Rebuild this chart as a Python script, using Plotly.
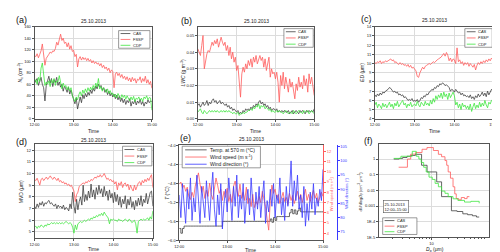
import plotly.graph_objects as go
import pandas as pd

T0 = "2013-10-25 12:00"
T1 = "2013-10-25 15:00"
DATE_TITLE = "25.10.2013"
TIME_TICKS = ["12:00", "13:00", "14:00", "15:00"]
PANEL_LABELS = ["(a)", "(b)", "(c)", "(d)", "(e)", "(f)"]
PROBES = ["CAS", "FSSP", "CDP"]

# ---------------- (a) droplet number concentration Nc (cm-3), 2-min values 12:00..15:00
nc_cas = [62, 65, 70, 58, 66, 72, 60, 54, 31, 58,
          66, 74, 62, 70, 56, 68, 63, 72, 58, 64,
          55, 60, 48, 57, 52, 46, 55, 43, 50, 38,
          33, 26, 36, 17, 30, 38, 28, 42, 35, 44,
          38, 46, 41, 50, 44, 53, 48, 57, 52, 60,
          55, 58, 50, 54, 46, 51, 42, 48, 40, 45,
          38, 43, 35, 41, 33, 39, 30, 36, 28, 34,
          25, 32, 28, 35, 22, 30, 26, 33, 24, 31,
          27, 34, 25, 30, 22, 29, 26, 33, 28, 31,
          30]
nc_fssp = [110, 108, 113, 106, 112, 118, 130, 112, 93, 105,
           110, 112, 116, 114, 118, 117, 122, 133, 128, 140,
           147, 136, 140, 131, 133, 125, 132, 121, 127, 117,
           119, 108, 112, 90, 104, 108, 102, 107, 103, 106,
           101, 105, 100, 103, 97, 101, 96, 99, 95, 97,
           92, 96, 89, 93, 87, 90, 84, 88, 80, 85,
           82, 54, 78, 81, 75, 79, 72, 77, 70, 74,
           68, 73, 66, 71, 64, 72, 66, 70, 62, 69,
           67, 73, 63, 70, 65, 74, 62, 68, 60, 65,
           53]
nc_cdp = [63, 68, 60, 72, 65, 88, 97, 70, 58, 64,
          60, 66, 56, 68, 62, 70, 58, 66, 64, 75,
          60, 52, 62, 55, 58, 50, 56, 48, 54, 40,
          35, 30, 38, 33, 42, 47, 40, 50, 44, 52,
          46, 54, 48, 55, 50, 58, 52, 62, 55, 70,
          52, 56, 48, 54, 50, 46, 52, 44, 49, 42,
          45, 38, 43, 36, 44, 40, 35, 42, 37, 41,
          34, 40, 36, 31, 38, 33, 39, 30, 36, 34,
          38, 32, 36, 30, 38, 35, 40, 33, 37, 36,
          15]

# ---------------- (b) LWC (g m-3)
lwc_cas = [.008, .009, .007, .009, .010, .008, .009, .011, .008, .010,
           .009, .011, .012, .010, .011, .009, .010, .011, .009, .010,
           .009, .008, .009, .007, .008, .006, .007, .005, .006, .005,
           .004, .005, .003, .004, .003, .005, .004, .006, .005, .006,
           .005, .007, .006, .008, .007, .009, .008, .010, .011, .009,
           .010, .008, .009, .007, .008, .006, .007, .005, .006, .006,
           .005, .006, .004, .005, .004, .005, .004, .005, .004, .004,
           .005, .003, .004, .005, .003, .004, .005, .004, .003, .005,
           .004, .005, .004, .003, .005, .004, .005, .004, .005, .004,
           .006]
lwc_fssp = [.042, .040, .038, .044, .050, .030, .036, .039, .041, .040,
            .043, .046, .044, .047, .045, .048, .043, .047, .049, .046,
            .044, .046, .041, .044, .038, .043, .036, .040, .034, .037,
            .029, .032, .020, .013, .027, .031, .028, .033, .030, .035,
            .032, .036, .031, .037, .034, .038, .033, .036, .038, .035,
            .037, .031, .036, .029, .034, .037, .025, .030, .027, .028,
            .024, .028, .022, .010, .026, .020, .028, .018, .025, .021,
            .016, .024, .019, .022, .015, .012, .021, .017, .025, .019,
            .022, .018, .026, .020, .024, .016, .027, .021, .025, .020,
            .014]
lwc_cdp = [.004, .005, .006, .004, .003, .005, .004, .003, .004, .005,
           .004, .005, .004, .005, .004, .005, .004, .004, .005, .004,
           .005, .004, .005, .004, .005, .004, .004, .003, .004, .003,
           .003, .004, .002, .003, .003, .004, .003, .004, .004, .005,
           .005, .006, .005, .007, .006, .008, .007, .009, .006, .008,
           .007, .008, .006, .007, .006, .005, .006, .004, .005, .004,
           .004, .005, .004, .005, .004, .004, .003, .004, .005, .004,
           .003, .004, .004, .003, .005, .004, .003, .004, .005, .004,
           .004, .003, .005, .004, .004, .005, .003, .004, .005, .004,
           .003]

# ---------------- (c) ED (um)
ed_cas = [6.6, 6.4, 6.7, 6.5, 6.8, 6.6, 6.9, 6.8, 7.0, 7.1,
          7.2, 7.4, 7.3, 7.1, 6.9, 7.0, 6.8, 6.9, 6.6, 6.7,
          6.5, 6.6, 6.3, 6.4, 6.2, 6.0, 6.1, 6.0, 6.2, 5.9,
          6.0, 5.9, 6.1, 5.8, 6.0, 6.3, 6.2, 6.5, 6.4, 6.7,
          6.6, 6.9, 7.0, 7.2, 7.1, 7.4, 7.3, 7.6, 7.5, 7.8,
          7.7, 7.9, 7.8, 7.6, 7.7, 7.5, 7.4, 7.0, 7.2, 7.1,
          6.9, 7.2, 7.0, 6.8, 6.9, 6.6, 6.8, 6.5, 6.6, 6.4,
          6.5, 6.3, 6.6, 6.2, 6.4, 6.1, 6.5, 6.3, 6.7, 6.4,
          6.6, 6.9, 6.5, 6.8, 6.4, 7.0, 6.6, 6.9, 7.2, 7.0,
          8.0]
ed_fssp = [10.1, 10.0, 10.2, 10.1, 10.3, 10.0, 10.2, 10.1, 10.3, 10.2,
           10.3, 10.4, 10.5, 10.3, 10.4, 10.1, 10.2, 10.0, 9.9, 10.1,
           9.9, 10.0, 9.8, 9.9, 9.7, 9.9, 9.6, 9.8, 9.5, 9.6,
           9.4, 9.2, 8.6, 8.5, 9.0, 9.3, 9.6, 9.4, 9.7, 9.8,
           9.9, 10.0, 9.9, 10.1, 10.2, 10.1, 10.3, 10.4, 10.5, 10.6,
           10.7, 10.9, 11.1, 10.8, 11.2, 10.9, 10.3, 10.6, 10.2, 10.5,
           10.4, 10.0, 11.7, 10.2, 10.4, 10.0, 10.2, 9.8, 10.1, 9.9,
           10.1, 9.7, 10.0, 9.8, 9.6, 9.9, 9.3, 9.8, 10.1, 9.9,
           10.2, 10.0, 10.3, 10.1, 10.4, 10.2, 10.5, 10.3, 10.6, 10.4,
           10.0]
ed_cdp = [5.5, 5.8, 5.2, 5.6, 5.4, 5.1, 5.7, 5.3, 5.6, 5.2,
          5.5, 5.8, 5.3, 5.6, 5.1, 5.7, 5.4, 5.9, 5.3, 5.6,
          5.8, 6.0, 5.5, 5.7, 5.2, 5.6, 5.4, 5.8, 5.3, 5.5,
          5.6, 5.4, 5.9, 5.5, 5.3, 5.8, 5.6, 5.4, 5.9, 5.5,
          5.7, 5.4, 6.0, 5.6, 6.2, 5.8, 6.5, 6.1, 6.6, 6.3,
          6.8, 6.2, 6.9, 6.4, 6.7, 6.1, 6.8, 6.3, 6.6, 6.9,
          6.5, 5.5, 5.8, 5.2, 5.6, 5.0, 5.7, 5.3, 5.5, 5.1,
          5.4, 5.0, 5.6, 4.8, 5.3, 5.7, 5.1, 5.5, 5.2, 5.8,
          5.3, 5.7, 5.4, 6.0, 5.5, 5.2, 5.8, 5.6, 6.0, 5.9,
          6.7]

# ---------------- (d) MVD (um)
mvd_cas = [7.2, 7.0, 7.4, 7.1, 7.5, 7.3, 7.6, 7.2, 7.5, 7.4,
           7.6, 7.7, 7.4, 7.5, 7.3, 7.2, 7.4, 7.0, 7.3, 7.1,
           7.2, 7.0, 7.3, 6.9, 7.1, 7.0, 6.8, 7.4, 7.0, 8.4,
           7.2, 6.6, 7.8, 6.9, 7.6, 8.0, 7.3, 9.0, 7.6, 8.2,
           7.7, 8.5, 7.9, 9.1, 8.0, 8.6, 7.8, 8.8, 8.2, 9.0,
           8.3, 8.7, 8.0, 8.9, 8.1, 8.5, 7.7, 8.6, 7.9, 8.3,
           7.5, 8.4, 7.6, 8.2, 7.3, 8.0, 7.1, 7.8, 7.4, 8.1,
           7.0, 7.8, 7.3, 8.0, 7.1, 7.6, 6.9, 7.7, 7.2, 7.9,
           7.3, 8.1, 7.2, 7.8, 7.5, 8.3, 7.4, 8.0, 8.4, 8.5,
           7.2]
mvd_fssp = [9.5, 9.4, 9.6, 9.3, 9.0, 9.5, 9.6, 9.4, 9.6, 9.7,
            9.5, 9.7, 9.8, 9.6, 9.5, 9.7, 9.5, 9.4, 9.6, 9.3,
            9.4, 9.2, 9.3, 9.1, 9.2, 9.0, 9.1, 8.9, 9.0, 8.7,
            8.5, 7.6, 8.2, 8.4, 8.9, 9.0, 9.1, 9.2, 9.1, 9.3,
            9.2, 9.4, 9.3, 9.5, 9.4, 9.6, 9.7, 9.6, 9.8, 9.7,
            9.9, 9.7, 9.8, 10.0, 9.7, 9.5, 9.6, 9.4, 9.5, 9.3,
            9.4, 9.1, 9.3, 8.6, 9.2, 9.0, 9.3, 8.8, 9.1, 9.2,
            8.9, 9.1, 8.6, 9.0, 8.7, 8.5, 9.0, 8.6, 8.9, 9.2,
            9.3, 9.0, 9.4, 9.2, 9.5, 9.3, 9.6, 9.4, 9.7, 9.9,
            8.8]
mvd_cdp = [5.4, 5.5, 5.3, 5.5, 5.4, 5.6, 5.5, 5.4, 5.6, 5.5,
           5.7, 5.6, 5.7, 5.8, 5.7, 5.8, 5.7, 5.8, 5.7, 5.8,
           5.7, 5.8, 5.7, 5.8, 5.9, 5.8, 5.7, 5.8, 5.7, 5.4,
           4.9, 5.6, 5.2, 5.7, 5.8, 5.9, 5.8, 5.9, 6.0, 5.9,
           6.0, 6.1, 6.0, 6.2, 6.1, 6.3, 6.2, 6.4, 6.3, 6.5,
           6.4, 6.6, 6.4, 6.7, 6.5, 6.3, 6.2, 5.7, 6.1, 6.0,
           6.1, 6.0, 6.0, 5.9, 6.1, 6.0, 6.0, 5.9, 6.0, 6.1,
           6.0, 5.9, 6.1, 6.0, 5.8, 5.9, 6.0, 5.7, 4.9, 5.9,
           6.0, 6.1, 6.0, 6.1, 6.0, 6.1, 6.2, 6.0, 6.3, 6.1,
           6.8]

# ---------------- (e) meteorology
temp_570 = [-5.75, -5.85, -5.75, -5.70, -5.70, -5.70, -5.70, -5.70, -5.70, -5.70,
            -5.70, -5.70, -5.70, -5.70, -5.70, -5.70, -5.70, -5.70, -5.70, -5.70,
            -5.70, -5.70, -5.70, -5.70, -5.70, -5.70, -5.70, -5.60, -5.60, -5.60,
            -5.60, -5.60, -5.60, -5.60, -5.60, -5.60, -5.60, -5.60, -5.60, -5.60,
            -5.60, -5.60, -5.60, -5.60, -5.60, -5.60, -5.60, -5.60, -5.60, -5.60,
            -5.60, -5.60, -5.60, -5.60, -5.60, -5.60, -5.60, -5.55, -5.62, -5.52,
            -5.58, -5.50, -5.50, -5.50, -5.50, -5.50, -5.50, -5.50, -5.50, -5.42,
            -5.35, -5.44, -5.36, -5.45, -5.38, -5.32, -5.40, -5.40, -5.40, -5.40,
            -5.40, -5.40, -5.40, -5.40, -5.40, -5.40, -5.40, -5.40, -5.40, -5.40,
            -5.40]
wind_speed = [8.8, 9.0, 8.4, 8.7, 8.1, 8.5, 7.6, 7.3, 8.0, 7.5,
              8.6, 9.3, 9.9, 8.8, 8.0, 8.6, 7.4, 8.2, 7.6, 8.9,
              7.8, 7.3, 8.4, 9.4, 8.7, 7.9, 8.3, 7.2, 8.1, 7.5,
              8.4, 7.1, 7.8, 7.0, 8.6, 9.1, 8.2, 7.6, 8.8, 7.4,
              8.0, 7.2, 8.5, 6.9, 7.4, 6.6, 7.8, 6.5, 7.1, 6.8,
              7.6, 7.0, 8.1, 7.4, 6.6, 5.4, 4.3, 7.2, 8.7, 7.9,
              8.3, 7.4, 7.8, 6.9, 7.6, 8.0, 7.1, 7.5, 6.8, 7.9,
              7.2, 7.7, 6.9, 7.4, 8.1, 7.3, 7.8, 7.0, 7.6, 8.3,
              7.2, 7.8, 7.1, 7.7, 8.2, 7.4, 7.9, 7.0, 7.5, 8.0,
              7.6]
wind_dir = [88, 80, 92, 84, 78, 90, 83, 94, 79, 87,
            82, 95, 85, 78, 91, 84, 80, 93, 86, 79,
            89, 96, 83, 77, 88, 81, 92, 76, 85, 90,
            82, 94, 87, 79, 91, 84, 95, 80, 88, 83,
            92, 78, 86, 90, 81, 94, 85, 79, 89, 83,
            91, 80, 87, 93, 78, 86, 82, 90, 84, 92,
            80, 88, 85, 94, 81, 87, 79, 91, 84, 89,
            100, 84, 93, 86, 95, 83, 88, 80, 91, 77,
            85, 79, 89, 83, 92, 81, 87, 84, 90, 86,
            97]
E_LEGEND = ["Temp. at 570 m (°C)", "Wind speed (m s<sup>-1</sup>)", "Wind direction (°)"]

# ---------------- (f) size distributions dN/dlogDp
dp_cas = [2.07, 2.6, 3.0, 3.6, 4.2, 5.1, 6.6, 8.3, 12.4, 15.2, 22.9, 29, 36.8, 45, 55, 65, 72.8]
dn_cas = [1.0, 1.1, 1.25, 1.5, 1.7, 2.0, 0.4, 0.15, 0.035, 0.004, 0.0005, 0.00045,
          0.00032, 0.00028, 0.00024, 0.0002, 0.0002]
dp_fssp = [2.54, 3.66, 4.2, 5.14, 6.73, 8.27, 10.8, 13.3, 15.2, 17.5, 18.8, 20, 22,
           24.5, 26.3, 28, 31, 34.5, 39.5, 44, 48.4]
dn_fssp = [0.3, 1.0, 2.05, 2.6, 4.2, 5.4, 3.5, 2.0, 1.4, 0.8, 0.4, 0.15, 0.06,
           0.017, 0.006, 0.003, 0.0025, 0.0035, 0.003, 0.004, 0.004]
dp_cdp = [2.07, 2.79, 4.48, 5.3, 5.9, 6.5, 7.2, 8.0, 9.0, 10.3, 11.6, 13.3, 15.2,
          17.5, 20, 24.5, 30, 39.5, 51.6, 72.8]
dn_cdp = [1.1, 1.5, 3.1, 1.5, 1.0, 0.6, 0.3, 0.15, 0.07, 0.05, 0.028, 0.017, 0.009,
          0.0065, 0.004, 0.0029, 0.0023, 0.0018, 0.002, 0.0015]
F_XTICKS = [10]
F_XTICKTEXT = ["10"]
F_YTICKS = [1e-5, 1e-4, 1e-3, 1e-2, 0.1, 1]
F_YTICKTEXT = ["1E-5", "1E-4", "0.001", "0.01", "0.1", "1"]
F_BOX_TEXT = "25.10.2013<br>12:00–15:00"

# ---------------- styling
W, H = 500, 252
FONT = "Liberation Sans, Arial, sans-serif"
C_CAS = "#404040"
C_FSSP = "#ff5c5c"
C_CDP = "#40e640"
C_BLUE = "#3a3aff"
LW = 0.8
TICK_FS = 4
TITLE_FS = 5


def px(x):
    return x / W


def py(y):
    return 1 - y / H


def tx(vals):
    return pd.date_range(T0, T1, periods=len(vals))


A_X = [px(22), px(142)]
B_X = [px(189), px(308)]
C_X = [px(370), px(492)]
TOP_Y = [py(110), py(16)]
D_X = [px(22), px(143)]
D_Y = [py(232), py(136)]
E_X = [px(170), px(317)]
E_Y = [py(234), py(137)]
F_X = [px(374), px(487)]
F_Y = [py(231), py(136)]

AX = dict(showline=True, linecolor="#555", linewidth=0.7, mirror=True,
          ticks="outside", ticklen=2, tickwidth=0.5, tickcolor="#555",
          showgrid=True, gridcolor="#dcdcdc", gridwidth=0.5, zeroline=False,
          tickfont=dict(size=TICK_FS, color="#222", family=FONT))


def time_x(domain, anchor):
    return dict(AX, domain=domain, anchor=anchor, type="date", range=[T0, T1],
                tickmode="array",
                tickvals=[f"2013-10-25 {t}" for t in TIME_TICKS], ticktext=TIME_TICKS)


def y_ax(domain, anchor, rng, dtick, fmt=None):
    d = dict(AX, domain=domain, anchor=anchor, range=rng, dtick=dtick)
    if fmt:
        d["tickformat"] = fmt
    return d


fig = go.Figure()


def add_line(x, y, color, xa, ya, shape="linear"):
    fig.add_trace(go.Scatter(x=x, y=y, mode="lines", xaxis=xa, yaxis=ya,
                             line=dict(color=color, width=LW, shape=shape),
                             showlegend=False, hoverinfo="skip"))


panels = [(nc_cas, nc_fssp, nc_cdp, "x", "y"),
          (lwc_cas, lwc_fssp, lwc_cdp, "x2", "y2"),
          (ed_cas, ed_fssp, ed_cdp, "x3", "y3"),
          (mvd_cas, mvd_fssp, mvd_cdp, "x4", "y4")]
for cas, fssp, cdp, xa, ya in panels:
    add_line(tx(cas), cas, C_CAS, xa, ya)
    add_line(tx(fssp), fssp, C_FSSP, xa, ya)
    add_line(tx(cdp), cdp, C_CDP, xa, ya)

add_line(tx(temp_570), temp_570, C_CAS, "x5", "y5", shape="hv")
add_line(tx(wind_speed), wind_speed, C_FSSP, "x5", "y6")
add_line(tx(wind_dir), wind_dir, C_BLUE, "x5", "y7")

add_line(dp_cas, dn_cas, C_CAS, "x6", "y8", shape="hv")
add_line(dp_fssp, dn_fssp, C_FSSP, "x6", "y8", shape="hv")
add_line(dp_cdp, dn_cdp, C_CDP, "x6", "y8", shape="hv")

RIGHT_AX = dict(overlaying="y5", showgrid=False, zeroline=False, showline=True, linewidth=0.7,
                ticks="outside", ticklen=2, tickwidth=0.5)

fig.update_layout(
    width=W, height=H, autosize=False, margin=dict(l=0, r=0, t=0, b=0),
    paper_bgcolor="white", plot_bgcolor="white", showlegend=False,
    font=dict(family=FONT, size=TITLE_FS, color="#222"),
    xaxis=time_x(A_X, "y"),
    yaxis=y_ax(TOP_Y, "x", [0, 160], 20),
    xaxis2=time_x(B_X, "y2"),
    yaxis2=y_ax(TOP_Y, "x2", [0, 0.0553], 0.01, ".2f"),
    xaxis3=time_x(C_X, "y3"),
    yaxis3=y_ax(TOP_Y, "x3", [4, 14], 1),
    xaxis4=time_x(D_X, "y4"),
    yaxis4=y_ax(D_Y, "x4", [4.45, 12.5], 1),
    xaxis5=time_x(E_X, "y5"),
    yaxis5=dict(y_ax(E_Y, "x5", [-6.0, -4.0], 0.4, ".1f"), mirror=False),
    yaxis6=dict(RIGHT_AX, side="right", anchor="x5", range=[3.3, 12.6], dtick=1,
                linecolor=C_FSSP, tickcolor=C_FSSP,
                tickfont=dict(size=TICK_FS, color=C_FSSP, family=FONT)),
    yaxis7=dict(RIGHT_AX, side="right", anchor="free", position=px(331),
                range=[72, 105.5], dtick=5, linecolor=C_BLUE, tickcolor=C_BLUE,
                tickfont=dict(size=TICK_FS, color=C_BLUE, family=FONT)),
    xaxis6=dict(AX, domain=F_X, anchor="y8", type="log", range=[0.045, 2.045],
                tickmode="array", tickvals=F_XTICKS, ticktext=F_XTICKTEXT,
                minor=dict(ticks="outside", ticklen=1, tickcolor="#555",
                           tickvals=[2, 3, 4, 5, 6, 7, 8, 9, 20, 30, 40, 50, 60, 70, 80, 90])),
    yaxis8=dict(AX, domain=F_Y, anchor="x6", type="log", range=[-5, 0.94],
                tickmode="array", tickvals=F_YTICKS, ticktext=F_YTICKTEXT),
)


def note(text, x, y, size, angle=0, color="#222", xanchor="center"):
    fig.add_annotation(x=px(x), y=py(y), xref="paper", yref="paper", text=text,
                       showarrow=False, xanchor=xanchor, yanchor="middle", textangle=angle,
                       borderpad=0, font=dict(size=size, family=FONT, color=color))


# panel titles and letters
for (cx, cy) in [((22 + 142) / 2, 10), ((189 + 308) / 2, 10.5), ((370 + 492) / 2, 9.5),
                 ((22 + 143) / 2, 131.5), ((170 + 317) / 2, 131)]:
    note(DATE_TITLE, cx, cy, 5)
for lab, (cx, cy) in zip(PANEL_LABELS, [(9, 9), (177, 10), (361, 8.5), (9, 134), (176, 130), (364, 133)]):
    note(lab, cx, cy, 9, color="#111")

# axis titles
for cx, cy in [(82, 122), (248, 122), (431, 122), (82, 243), (243, 244)]:
    note("Time", cx, cy, TITLE_FS)
note("<i>D</i><sub>p</sub> (μm)", 431, 243, TITLE_FS)
note("<i>N</i><sub>c</sub> (cm<sup>-3</sup>)", 8, 63, TITLE_FS, -90)
note("<i>LWC</i> (g m<sup>-3</sup>)", 173.5, 63, TITLE_FS, -90)
note("<i>ED</i> (μm)", 357, 63, TITLE_FS, -90)
note("MVD (μm)", 9, 184, TITLE_FS, -90)
note("<i>T</i> (°C)", 158, 186, TITLE_FS, -90)
note("Wind speed (m s<sup>-1</sup>)", 326, 186, 4, -90, color=C_FSSP)
note("Wind direction (°)", 341, 186, 4, -90, color=C_BLUE)
note("d<i>N</i>/dlog<i>D</i><sub>p</sub> (cm<sup>-3</sup> μm<sup>-1</sup>)", 355, 184, 4, -90)


def legend_box(x0, y0, x1, y1, entries, l0, l1, tx0, fs):
    fig.add_shape(type="rect", xref="paper", yref="paper", x0=px(x0), x1=px(x1),
                  y0=py(y1), y1=py(y0), line=dict(color="#555", width=0.6), fillcolor="white")
    n = len(entries)
    step = (y1 - y0) / n
    for i, (name, color) in enumerate(entries):
        yc = y0 + step * (i + 0.5)
        fig.add_shape(type="line", xref="paper", yref="paper", x0=px(l0), x1=px(l1),
                      y0=py(yc), y1=py(yc), line=dict(color=color, width=LW))
        note(name, tx0, yc, fs, xanchor="left")


probe_up = [(PROBES[0], C_CAS), (PROBES[1], C_FSSP), (PROBES[2], C_CDP)]
probe_it = [("<i>" + PROBES[0] + "</i>", C_CAS), ("<i>" + PROBES[1] + "</i>", C_FSSP), (PROBES[2], C_CDP)]
legend_box(108, 20, 140, 38, probe_up, 110, 120, 121.5, 4)
legend_box(277, 18, 307, 37, probe_it, 279, 289, 290.5, 4)
legend_box(462, 18, 490, 37, probe_it, 464, 473, 474.5, 4)
legend_box(112, 138, 142, 158, probe_up, 114, 124, 125.5, 4)
legend_box(173, 138, 253, 160, list(zip(E_LEGEND, [C_CAS, C_FSSP, C_BLUE])), 176, 198, 200, 5)
legend_box(378, 211, 413, 228, probe_it, 380, 390, 392, 4)

fig.add_annotation(x=px(378), y=py(193), xref="paper", yref="paper", text=F_BOX_TEXT,
                   showarrow=False, xanchor="left", yanchor="top", align="left",
                   bordercolor="#555", borderwidth=0.6, borderpad=1, bgcolor="white",
                   font=dict(size=4, family=FONT, color="#222"))

fig.write_html("out.html")
